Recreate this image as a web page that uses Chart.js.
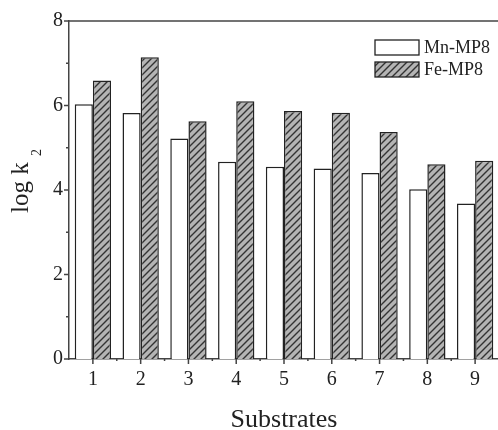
<!doctype html>
<html lang="en">
<head>
    <meta charset="utf-8">
    <title>log k2 per substrate</title>
    <style>
        * {
            margin: 0;
            padding: 0;
        }

        body {
            background: #fff;
            overflow: hidden;
        }

        .chartBox {
            width: 498px;
            height: 430px;
            overflow: hidden;
        }

        .chartBox canvas {
            display: block;
        }
    </style>
</head>
<body>
<div class="chartBox">
    <canvas id="myChart" width="510" height="430"></canvas>
</div>
<script src="https://cdn.jsdelivr.net/npm/chart.js"></script>
<script>
    // data
    const substrates = ['1', '2', '3', '4', '5', '6', '7', '8', '9'];
    const mnMP8 = [6.03, 5.82, 5.22, 4.67, 4.55, 4.51, 4.40, 4.02, 3.68];
    const feMP8 = [6.59, 7.14, 5.63, 6.10, 5.87, 5.83, 5.37, 4.61, 4.69];
    const seriesNames = ['Mn-MP8', 'Fe-MP8'];
    const yMin = 0, yMax = 8, yStep = 2;

    const serif = '"Liberation Serif", "Times New Roman", serif';
    const axisColor = '#444';
    const textColor = '#222';

    // diagonal hatch for the Fe bars
    function makeHatch() {
        const size = 7;
        const c = document.createElement('canvas');
        c.width = size;
        c.height = size;
        const g = c.getContext('2d');
        g.fillStyle = '#b4b4b4';
        g.fillRect(0, 0, size, size);
        g.strokeStyle = '#333';
        g.lineWidth = 1.4;
        g.beginPath();
        g.moveTo(0, size);
        g.lineTo(size, 0);
        g.moveTo(-2, 2);
        g.lineTo(2, -2);
        g.moveTo(size - 2, size + 2);
        g.lineTo(size + 2, size - 2);
        g.stroke();
        return g.createPattern(c, 'repeat');
    }
    const hatch = makeHatch();

    const data = {
        labels: substrates,
        datasets: [{
            label: seriesNames[0],
            data: mnMP8,
            backgroundColor: '#fff',
            borderColor: '#222',
            borderWidth: 1.5
        }, {
            label: seriesNames[1],
            data: feMP8,
            backgroundColor: hatch,
            borderColor: '#222',
            borderWidth: 1.5
        }]
    };

    // tick marks, frame line, axis titles and legend
    const decorations = {
        id: 'decorations',
        afterDraw(chart) {
            const {ctx, chartArea: {top, bottom, left, right}, scales: {x, y}} = chart;
            ctx.save();
            ctx.strokeStyle = axisColor;
            ctx.lineWidth = 1.5;

            // frame line along the top
            ctx.beginPath();
            ctx.moveTo(left, top);
            ctx.lineTo(chart.width, top);
            ctx.stroke();

            // y ticks: major with labels, minor in between
            ctx.beginPath();
            for (let v = yMin; v <= yMax; v += yStep / 2) {
                const py = y.getPixelForValue(v);
                const len = (v % yStep === 0) ? 5 : 3;
                ctx.moveTo(left - len, py);
                ctx.lineTo(left, py);
            }
            // x ticks at categories, small ones between them
            for (let i = 0; i < substrates.length; i++) {
                const px = x.getPixelForTick(i);
                ctx.moveTo(px, bottom);
                ctx.lineTo(px, bottom + 5);
                if (i < substrates.length - 1) {
                    const mid = (px + x.getPixelForTick(i + 1)) / 2;
                    ctx.moveTo(mid, bottom);
                    ctx.lineTo(mid, bottom + 2);
                }
            }
            ctx.stroke();

            // axis titles
            ctx.fillStyle = textColor;
            ctx.textBaseline = 'alphabetic';
            ctx.textAlign = 'center';
            ctx.font = '26px ' + serif;
            ctx.fillText('Substrates', (left + right) / 2, 427);

            ctx.save();
            ctx.translate(28, 213);
            ctx.rotate(-Math.PI / 2);
            ctx.textAlign = 'left';
            ctx.font = '25px ' + serif;
            const main = 'log k ';
            ctx.fillText(main, 0, 0);
            const w = ctx.measureText(main).width;
            ctx.font = '14px ' + serif;
            ctx.fillText('2', w, 13);
            ctx.restore();

            // legend
            const boxX = 375, boxW = 44, boxH = 15;
            const rows = [40, 62];
            ctx.font = '18px ' + serif;
            ctx.textAlign = 'left';
            ctx.textBaseline = 'middle';
            chart.data.datasets.forEach((ds, i) => {
                ctx.fillStyle = ds.backgroundColor;
                ctx.fillRect(boxX, rows[i], boxW, boxH);
                ctx.strokeStyle = '#222';
                ctx.lineWidth = 1.3;
                ctx.strokeRect(boxX, rows[i], boxW, boxH);
                ctx.fillStyle = textColor;
                ctx.fillText(ds.label, boxX + boxW + 5, rows[i] + boxH / 2 + 1);
            });

            ctx.restore();
        }
    };

    const config = {
        type: 'bar',
        data,
        options: {
            responsive: false,
            animation: false,
            layout: {
                padding: {top: 21, right: 11, left: 0, bottom: 0}
            },
            plugins: {
                legend: {display: false},
                tooltip: {enabled: false}
            },
            datasets: {
                bar: {
                    categoryPercentage: 0.76,
                    barPercentage: 1
                }
            },
            scales: {
                x: {
                    offset: true,
                    grid: {display: false, drawTicks: false},
                    border: {display: true, color: axisColor, width: 1.5},
                    ticks: {
                        color: textColor,
                        padding: 9,
                        maxRotation: 0,
                        font: {family: serif, size: 20}
                    },
                    afterFit(scale) {
                        scale.height = 71;
                    }
                },
                y: {
                    min: yMin,
                    max: yMax,
                    grid: {display: false, drawTicks: false},
                    border: {display: true, color: axisColor, width: 1.5},
                    ticks: {
                        stepSize: yStep,
                        color: textColor,
                        padding: 6,
                        font: {family: serif, size: 20}
                    },
                    afterFit(scale) {
                        scale.width = 69;
                    }
                }
            }
        },
        plugins: [decorations]
    };

    const myChart = new Chart(
        document.getElementById('myChart'),
        config
    );
</script>
</body>
</html>
